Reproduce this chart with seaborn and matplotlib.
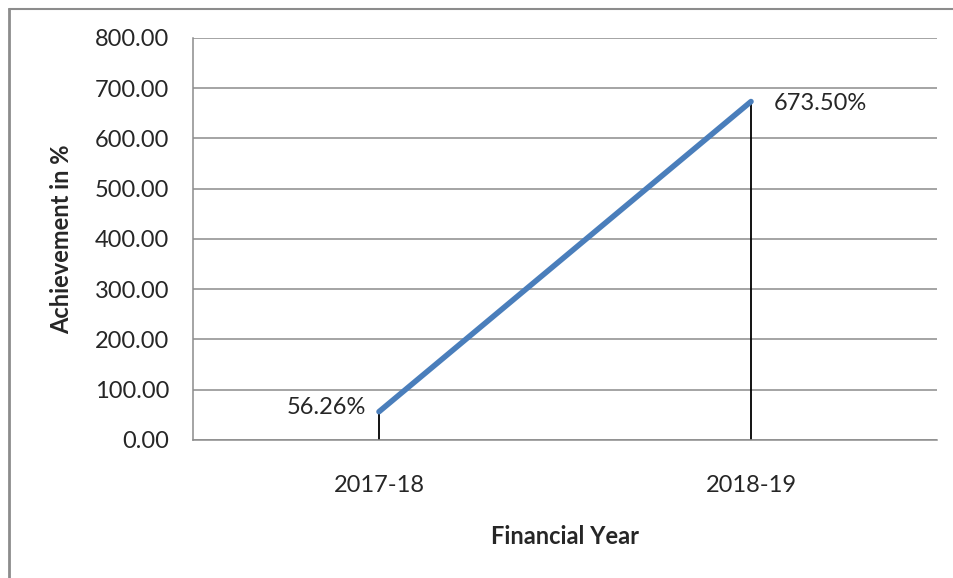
import numpy as np
import pandas as pd
import matplotlib
matplotlib.use("Agg")
import matplotlib.pyplot as plt
import seaborn as sns
from matplotlib.lines import Line2D

years = ["2017-18", "2018-19"]
achievement = [56.26, 673.50]
point_labels = ["56.26%", "673.50%"]
y_ticks = [0, 100, 200, 300, 400, 500, 600, 700, 800]

sns.set_style("white")
plt.rcParams['font.family'] = ['Lato', 'DejaVu Sans']
fs = 17

df = pd.DataFrame({"Year": years, "Achievement": achievement})
df["pos"] = np.arange(len(years))

fig = plt.figure(figsize=(9.54, 5.78), dpi=100)
ax = fig.add_axes([0.2023, 0.2388, 0.9822 - 0.2023, 0.9343 - 0.2388])

# gridlines
for t in y_ticks:
    ax.axhline(t, color="#8c8c8c", lw=1.1, zorder=0)

# drop lines
ax.vlines(df["pos"], 0, df["Achievement"], color="black", lw=1.3, zorder=1)

sns.lineplot(data=df, x="pos", y="Achievement", ax=ax, color="#4a7ebb", lw=4,
             solid_capstyle="round", zorder=2)

ax.set_xlim(-0.5, 1.5)
ax.set_ylim(0, 800)
ax.set_yticks(y_ticks)
ax.set_yticklabels([f"{t:.2f}" for t in y_ticks], fontsize=fs)
ax.set_xticks(df["pos"])
ax.set_xticklabels(years, fontsize=fs)
ax.tick_params(axis="y", length=7, color="#8c8c8c", width=1.1, pad=10)
ax.tick_params(axis="x", length=0, pad=25)

for s in ["top", "right"]:
    ax.spines[s].set_visible(False)
ax.spines["left"].set_color("#8c8c8c")
ax.spines["bottom"].set_color("#8c8c8c")
ax.spines["left"].set_linewidth(1.1)
ax.spines["bottom"].set_linewidth(1.1)

ax.text(df["pos"][0] - 0.035, df["Achievement"][0] + 8, point_labels[0],
        ha="right", va="center", fontsize=fs)
ax.text(df["pos"][1] + 0.06, df["Achievement"][1] - 4, point_labels[1],
        ha="left", va="center", fontsize=fs)

ax.set_ylabel("Achievement in %", fontsize=fs, fontweight="bold", labelpad=16)
ax.set_xlabel("Financial Year", fontsize=fs, fontweight="bold", labelpad=21)

# outer chart border (left and top visible)
fig.add_artist(Line2D([9/954, 9/954], [0, 1 - 9/578], transform=fig.transFigure,
                      color="#8c8c8c", lw=2))
fig.add_artist(Line2D([9/954, 1], [1 - 9/578, 1 - 9/578], transform=fig.transFigure,
                      color="#8c8c8c", lw=1.5))

fig.savefig("out.png", dpi=100)
